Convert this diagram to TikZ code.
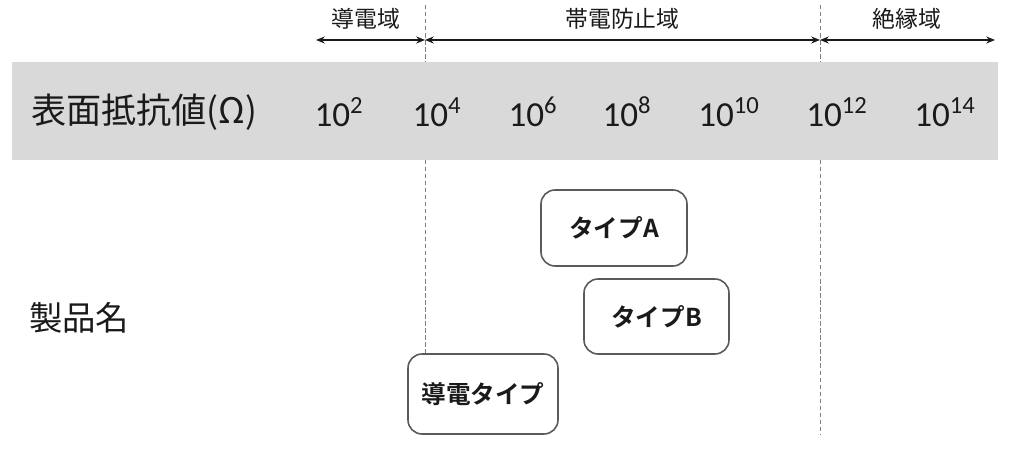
\documentclass[tikz,border=0pt]{standalone}
\usepackage{fontspec}
\setmainfont{Carlito}
\newfontfamily\jp[BoldFont={Noto Sans CJK JP Bold}]{Noto Sans CJK JP}
\usepackage{xcolor}
\usepackage{tikz}
\usetikzlibrary{arrows.meta}
\definecolor{band}{HTML}{D9D9D9}
\definecolor{guide}{HTML}{7F7F7F}
\definecolor{frame}{HTML}{5A5A5A}
\definecolor{ink}{HTML}{1A1A1A}
\tikzset{
  spanarrow/.style={{Stealth[length=5pt,width=4pt]}-{Stealth[length=5pt,width=4pt]}, draw=ink, line width=0.7pt},
  borderline/.style={draw=guide, dashed, dash pattern=on 2.5pt off 1.5pt, line width=0.5pt},
  zonelab/.style={text=ink, font=\jp\fontsize{13}{15}\selectfont},
  headlab/.style={text=ink, font=\jp\fontsize{20}{24}\selectfont, anchor=west},
  expolab/.style={text=ink, font=\fontsize{20}{24}\selectfont},
  productbox/.style={draw=frame, fill=white, rounded corners=8pt, line width=0.9pt,
    text=ink, font=\jp\bfseries\fontsize{14}{16}\selectfont}
}
\begin{document}
\begin{tikzpicture}
  \useasboundingbox (0,0) rectangle (20.48,9.04);

  % region borders
  \coordinate (c4top) at (8.50,8.94);
  \coordinate (c4bot) at (8.50,1.96);
  \coordinate (c12top) at (16.40,8.94);
  \coordinate (c12bot) at (16.40,0.34);
  \draw[borderline] (c4top) -- (c4bot);
  \draw[borderline] (c12top) -- (c12bot);

  % resistance band
  \fill[band] (0.24,5.84) rectangle (19.96,7.80);
  \node[headlab] (title) at (0.50,6.80) {表面抵抗値(Ω)};
  \node[expolab] (e2) at (6.78,6.80) {10\textsuperscript{2}};
  \node[expolab] (e4) at (8.74,6.80) {10\textsuperscript{4}};
  \node[expolab] (e6) at (10.66,6.80) {10\textsuperscript{6}};
  \node[expolab] (e8) at (12.54,6.80) {10\textsuperscript{8}};
  \node[expolab] (e10) at (14.58,6.80) {10\textsuperscript{10}};
  \node[expolab] (e12) at (16.74,6.80) {10\textsuperscript{12}};
  \node[expolab] (e14) at (18.90,6.80) {10\textsuperscript{14}};

  % ranges on top
  \coordinate (r0) at (6.32,8.24);
  \coordinate (r1) at (8.50,8.24);
  \coordinate (r2) at (16.40,8.24);
  \coordinate (r3) at (19.90,8.24);
  \draw[spanarrow] (r0) -- (r1);
  \draw[spanarrow] (r1) -- (r2);
  \draw[spanarrow] (r2) -- (r3);
  \node[zonelab] (cond) at (7.32,8.66) {導電域};
  \node[zonelab] (anti) at (12.45,8.66) {帯電防止域};
  \node[zonelab] (insu) at (18.14,8.66) {絶縁域};

  % products
  \node[headlab, font=\jp\fontsize{19}{23}\selectfont] (name) at (0.46,2.68) {製品名};
  \node[productbox, minimum width=2.92cm, minimum height=1.52cm] (typeA) at (12.28,4.48) {タイプA};
  \node[productbox, minimum width=2.90cm, minimum height=1.50cm] (typeB) at (13.13,2.71) {タイプB};
  \node[productbox, minimum width=3.00cm, minimum height=1.60cm] (typeC) at (9.66,1.16) {導電タイプ};
\end{tikzpicture}
\end{document}
